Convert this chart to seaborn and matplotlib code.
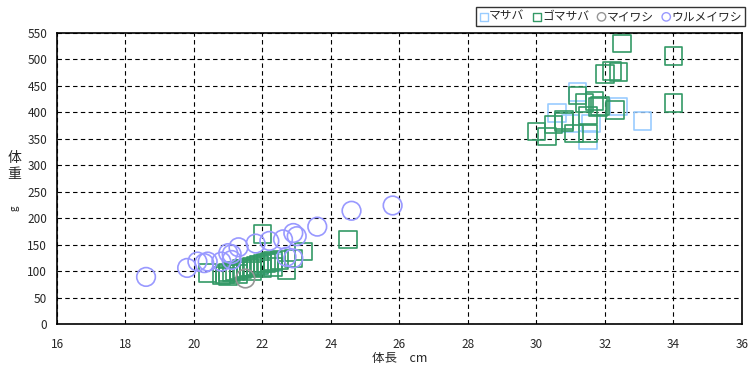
import pandas as pd
import seaborn as sns
import matplotlib.pyplot as plt

sns.set_style('white')
plt.rcParams['font.family'] = ['Noto Sans CJK JP', 'DejaVu Sans']

# マサバ
masaba_x = [31.2, 30.6, 32.4, 33.1, 31.0, 31.6, 31.5, 21.9, 22.3]
masaba_y = [438, 399, 411, 384, 379, 379, 348, 112, 116]
# ゴマサバ
goma_x = [32.5, 34.0, 32.0, 32.2, 32.4, 34.0, 31.2, 31.4, 31.7, 31.85, 31.8, 32.3, 31.5,
          30.8, 30.5, 30.8, 31.1, 31.5, 30.0, 30.3,
          24.5, 23.2, 22.7, 22.0, 20.4,
          20.8, 20.9, 21.0, 21.1, 21.2, 21.3, 21.4, 21.5, 21.6, 21.7, 21.8, 21.9, 22.0,
          22.1, 22.2, 22.3, 22.5, 22.9, 21.3, 21.7, 22.0, 22.3, 21.0]
goma_y = [530, 507, 473, 478, 476, 418, 432, 418, 422, 412, 410, 405, 394,
          382, 377, 386, 360, 360, 364, 354,
          160, 137, 102, 170, 96,
          92, 95, 97, 98, 100, 101, 104, 105, 107, 108, 110, 112, 114,
          115, 117, 119, 121, 124, 94, 100, 105, 108, 90]
# マイワシ
maiwashi_x = [21.5]
maiwashi_y = [86]
# ウルメイワシ
urume_x = [18.6, 19.8, 20.1, 20.3, 20.4, 20.8, 21.0, 21.1, 21.1, 21.3, 21.8, 22.2, 22.6,
           22.9, 23.0, 23.6, 22.7, 22.9, 24.6, 25.8]
urume_y = [89, 106, 118, 115, 118, 118, 134, 132, 121, 145, 152, 157, 160,
           172, 166, 184, 127, 124, 214, 224]

species = ['マサバ', 'ゴマサバ', 'マイワシ', 'ウルメイワシ']
colors = ['#99ccff', '#339966', '#969696', '#9999ff']
markers = ['s', 's', 'o', 'o']
sizes = [160, 160, 180, 180]
xs = [masaba_x, goma_x, maiwashi_x, urume_x]
ys = [masaba_y, goma_y, maiwashi_y, urume_y]

fig = plt.figure(figsize=(7.56, 3.73), dpi=100)
ax = fig.add_axes([0.0754, 0.1314, 0.906, 0.7801])

for name, c, m, s, x, y in zip(species, colors, markers, sizes, xs, ys):
    df = pd.DataFrame({'体長': x, '体重': y})
    sns.scatterplot(data=df, x='体長', y='体重', ax=ax, marker=m, s=s, color=c,
                    facecolor='none', edgecolor=c, linewidth=1.2, label=name, zorder=3)

ax.set_xlim(16, 36)
ax.set_ylim(0, 550)
ax.set_xticks(range(16, 37, 2))
ax.set_yticks(range(0, 551, 50))
ax.grid(True, color='black', linestyle=(0, (4, 3)), linewidth=0.8)
ax.set_axisbelow(True)
for sp in ax.spines.values():
    sp.set_color('black')
    sp.set_linewidth(1.2)
ax.tick_params(direction='in', length=4, color='black', labelsize=8.5)
ax.tick_params(axis='x', pad=10)
ax.tick_params(axis='y', pad=7)
ax.set_xlabel('体長　cm', fontsize=9, labelpad=1)
ax.set_ylabel('')
fig.text(0.019, 0.555, '体\n重', fontsize=10, ha='center', va='center', linespacing=1.1)
fig.text(0.019, 0.442, 'g', fontsize=7, ha='center', va='center', rotation=90)

leg = ax.legend(loc='upper right', bbox_to_anchor=(745 / 756, 1 - 7 / 373),
                bbox_transform=fig.transFigure, ncol=4, fontsize=8.5, frameon=True,
                fancybox=False, edgecolor='black', handletextpad=0.0, columnspacing=0.6,
                borderpad=0.25, handlelength=0.9, markerscale=0.45, borderaxespad=0)
leg.get_frame().set_linewidth(1.0)
for h in leg.legend_handles:
    h.set_linewidth(1.0)

fig.savefig('out.png', dpi=100)
